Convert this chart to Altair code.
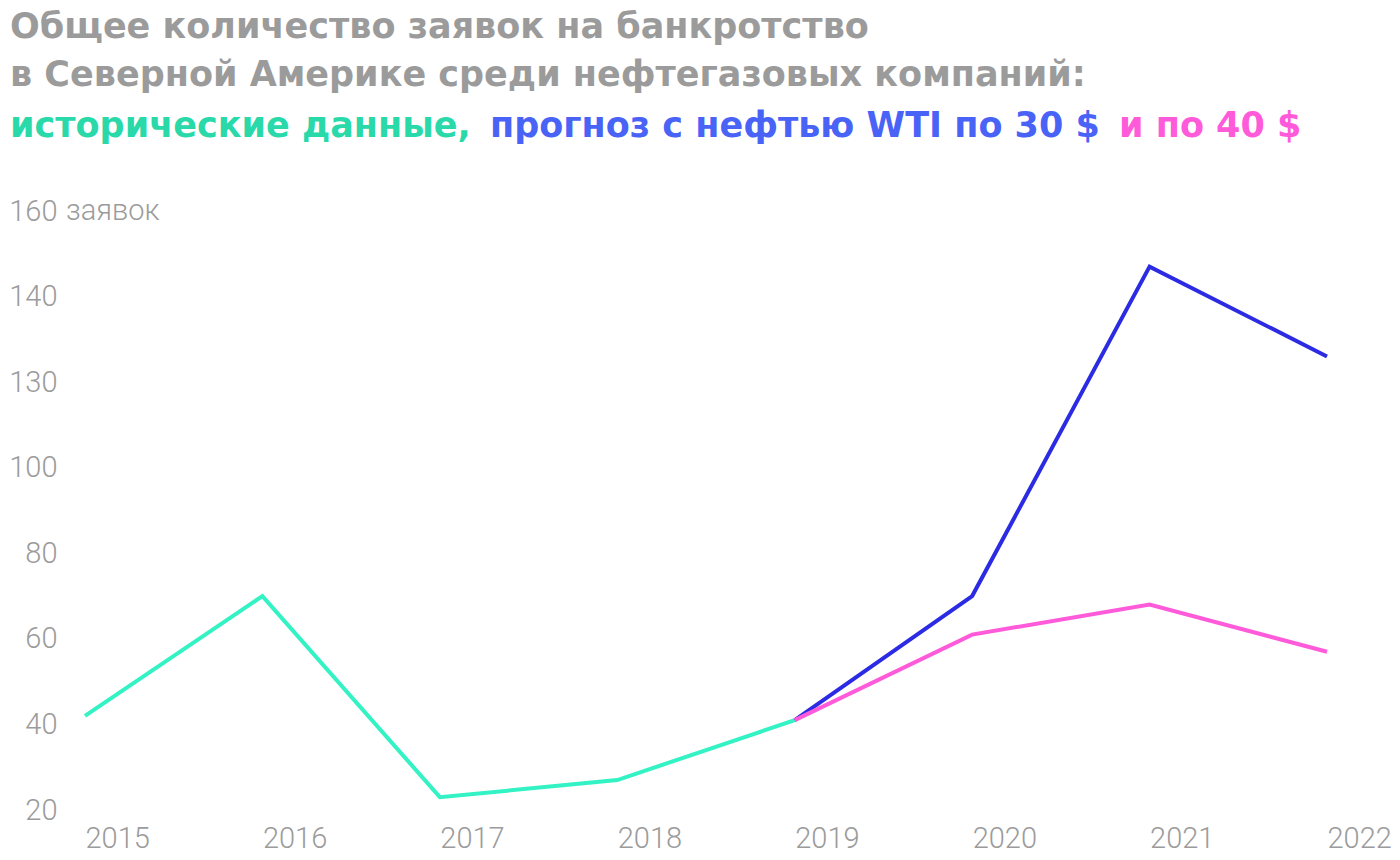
import altair as alt
import pandas as pd

years_hist = [2015, 2016, 2017, 2018, 2019]
values_hist = [42, 70, 23, 27, 41]
years_fc = [2019, 2020, 2021, 2022]
values_wti30 = [41, 70, 147, 126]
values_wti40 = [41, 61, 68, 57]

y_ticks = [20, 40, 60, 80, 100, 120, 140, 160]
x_ticks = [2015, 2016, 2017, 2018, 2019, 2020, 2021, 2022]

title_line1 = "Общее количество заявок на банкротство"
title_line2 = "в Северной Америке среди нефтегазовых компаний:"
seg_green = "исторические данные,"
seg_blue = "прогноз с нефтью WTI по 30 $"
seg_pink = "и по 40 $"

GREEN_LINE = "#33F2C4"
GREEN_TEXT = "#2AD9A9"
BLUE_LINE = "#2B2BE3"
BLUE_TEXT = "#4A63F7"
PINK = "#FF5AD9"
GRAY = "#9B9B9B"
FONT = "Roboto"
TFONT = "DejaVu Sans"

df_hist = pd.DataFrame({"year": years_hist, "v": values_hist})
df_30 = pd.DataFrame({"year": years_fc, "v": values_wti30})
df_40 = pd.DataFrame({"year": years_fc, "v": values_wti40})

xs = alt.X("year:Q", scale=alt.Scale(domain=[2015, 2022], nice=False, zero=False),
           axis=alt.Axis(values=x_ticks, format="d", title=None, grid=False, domain=False,
                         ticks=False, labelAlign="left", labelFlush=False, labelPadding=14,
                         labelFontSize=29, labelFont=FONT, labelFontWeight=300,
                         labelColor=GRAY))
ys = alt.Y("v:Q", scale=alt.Scale(domain=[20, 160], nice=False, zero=False),
           axis=alt.Axis(values=y_ticks, title=None, grid=False, domain=False, ticks=False,
                         labelAlign="right", labelBaseline="middle", labelPadding=28,
                         labelFontSize=29, labelFont=FONT, labelFontWeight=300,
                         labelColor=GRAY,
                         labelExpr="datum.value == 120 ? '130' : datum.label"))

line_hist = alt.Chart(df_hist).mark_line(color=GREEN_LINE, strokeWidth=4).encode(x=xs, y=ys)
line_30 = alt.Chart(df_30).mark_line(color=BLUE_LINE, strokeWidth=4).encode(x="year:Q", y="v:Q")
line_40 = alt.Chart(df_40).mark_line(color=PINK, strokeWidth=4).encode(x="year:Q", y="v:Q")

unit = alt.Chart(pd.DataFrame({"v": [160], "t": ["заявок"]})).mark_text(
    align="left", baseline="middle", fontSize=29, font=FONT, fontWeight=300, color=GRAY
).encode(x=alt.value(-19), y="v:Q", text="t:N")


def label(txt, x, y, color):
    return alt.Chart(pd.DataFrame({"t": [txt]})).mark_text(
        align="left", baseline="alphabetic", fontSize=35, font=TFONT, fontWeight="bold",
        color=color
    ).encode(x=alt.value(x), y=alt.value(y), text="t:N")


titles = [
    label(title_line1, -75, -173, GRAY),
    label(title_line2, -75, -125, GRAY),
    label(seg_green, -75, -74, GREEN_TEXT),
    label(seg_blue, 490 - 85, -74, BLUE_TEXT),
    label(seg_pink, 1119 - 85, -74, PINK),
]

chart = alt.layer(line_hist, line_30, line_40, unit, *titles).properties(
    width=1242, height=599,
    autosize=alt.AutoSizeParams(type="none"),
    padding={"left": 77, "top": 203, "right": 65, "bottom": 50},
).configure_view(stroke=None)

chart.save("out.html", embed_options={"renderer": "svg", "actions": False})
